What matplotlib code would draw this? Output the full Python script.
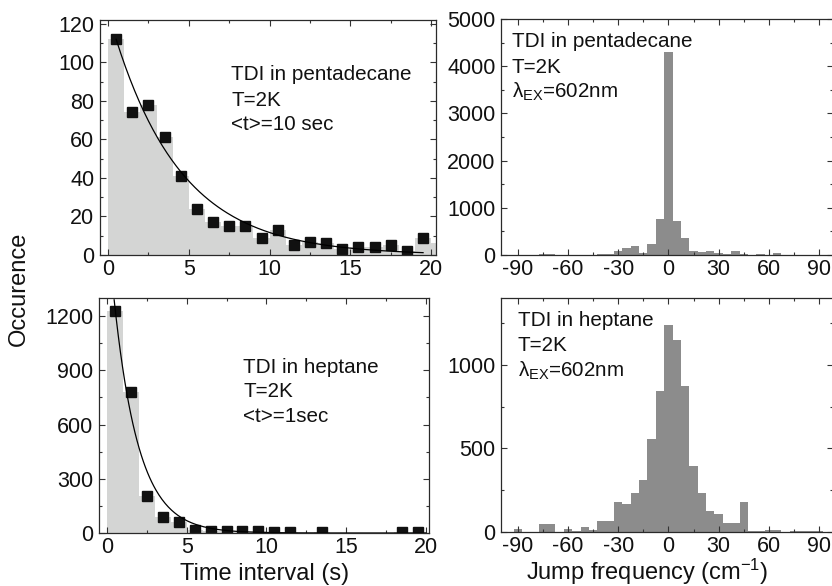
import numpy as np
import matplotlib
matplotlib.use('Agg')
import matplotlib.pyplot as plt
from matplotlib.ticker import MultipleLocator

plt.rcParams['font.family'] = ['Liberation Sans', 'DejaVu Sans']
plt.rcParams['mathtext.fontset'] = 'custom'
plt.rcParams['mathtext.rm'] = 'Liberation Sans'
plt.rcParams['mathtext.it'] = 'Liberation Sans:italic'
plt.rcParams['mathtext.bf'] = 'Liberation Sans:bold'
plt.rcParams['axes.unicode_minus'] = False

# ---------------- data ----------------
# waiting-time histograms (1 s bins starting at 0 s)
pent_time_counts = [112, 74, 78, 61, 41, 24, 17, 15, 15, 9, 13, 5, 7, 6, 3, 4, 4, 5, 2, 9, 6]
hept_time_counts = [1230, 780, 205, 88, 60, 15, 12, 12, 10, 10, 5, 8, 0, 5, 0, 0, 0, 0, 3, 3]

# exponential fit parameters (amplitude at first bin centre, decay constant)
pent_fit_amp, pent_fit_tau = 112.0, 4.2
hept_fit_amp, hept_fit_tau = 1290.0, 1.55

# jump-frequency histograms (5 cm-1 bins centred -95 ... 95)
jump_centers = list(range(-95, 100, 5))
pent_jump_counts = [3, 5, 5, 3, 14, 14, 5, 5, 7, 5, 7, 14, 14, 92, 149, 198, 42, 234, 772,
                    4300, 729, 361, 92, 71, 92, 35, 21, 92, 14, 7, 14, 7, 42, 5, 3, 3, 3, 3, 3]
hept_jump_counts = [0, 20, 0, 0, 50, 50, 0, 20, 8, 30, 14, 67, 63, 180, 169, 232, 311, 556, 841,
                    1238, 1151, 873, 395, 234, 125, 107, 54, 52, 179, 8, 8, 14, 14, 0, 3, 3, 3, 3, 0]

W, H = 832, 586
fig = plt.figure(figsize=(W / 100, H / 100), dpi=100)


def ax_px(l, t, r, b):
    return fig.add_axes([l / W, 1 - b / H, (r - l) / W, (b - t) / H])


def style(ax, xmaj, xmin, ymaj, ymin):
    ax.xaxis.set_major_locator(MultipleLocator(xmaj))
    ax.xaxis.set_minor_locator(MultipleLocator(xmin))
    ax.yaxis.set_major_locator(MultipleLocator(ymaj))
    ax.yaxis.set_minor_locator(MultipleLocator(ymin))
    ax.tick_params(which='both', direction='in', top=True, right=True,
                   colors='#333333', labelcolor='#111111', width=0.8)
    ax.tick_params(which='major', length=4, labelsize=15.5)
    ax.tick_params(axis='y', which='major', pad=4)
    ax.tick_params(axis='x', which='major', pad=3)
    ax.tick_params(which='minor', length=2)
    for s in ax.spines.values():
        s.set_color('#2a2a2a')
        s.set_linewidth(0.9)


light = '#d4d5d4'
dark = '#8c8c8c'

# ---- top left ----
ax1 = ax_px(100, 20, 436, 255)
t_edges = np.arange(len(pent_time_counts))
ax1.bar(t_edges, pent_time_counts, width=1.0, align='edge', color=light, linewidth=0)
ctr = t_edges[:20] + 0.5
ax1.plot(ctr, pent_time_counts[:20], 's', color='#111111', ms=6.5)
xf = np.linspace(0.5, 19.5, 200)
ax1.plot(xf, pent_fit_amp * np.exp(-(xf - 0.5) / pent_fit_tau), color='black', lw=0.9)
ax1.set_xlim(-0.5, 20.3)
ax1.set_ylim(0, 122)
style(ax1, 5, 2.5, 20, 10)

# ---- bottom left ----
ax2 = ax_px(99, 298, 429, 533)
t_edges2 = np.arange(len(hept_time_counts))
ax2.bar(t_edges2, hept_time_counts, width=1.0, align='edge', color=light, linewidth=0)
hc = np.array(hept_time_counts, dtype=float)
mask = hc > 0
ax2.plot((t_edges2 + 0.5)[mask], hc[mask], 's', color='#111111', ms=6.5)
xf2 = np.linspace(0.45, 20, 300)
ax2.plot(xf2, hept_fit_amp * np.exp(-(xf2 - 0.45) / hept_fit_tau), color='black', lw=0.9)
ax2.set_xlim(-0.5, 20.2)
ax2.set_ylim(0, 1300)
style(ax2, 5, 2.5, 300, 150)

# ---- top right ----
ax3 = ax_px(501, 19, 833, 255)
ax3.bar(jump_centers, pent_jump_counts, width=5.0, color=dark, linewidth=0)
ax3.set_xlim(-100, 98.3)
ax3.set_ylim(0, 5000)
style(ax3, 30, 15, 1000, 500)

# ---- bottom right ----
ax4 = ax_px(501, 298, 833, 532)
ax4.bar(jump_centers, hept_jump_counts, width=5.0, color=dark, linewidth=0)
ax4.set_xlim(-100, 98.3)
ax4.set_ylim(0, 1400)
style(ax4, 30, 15, 500, 250)


def ftext(x, y, s, **kw):
    fig.text(x / W, 1 - y / H, s, va='baseline', ha='left', fontsize=14.9, color='#111111', **kw)


# annotations
ftext(231, 80, 'TDI in pentadecane')
ftext(231, 105.5, 'T=2K')
ftext(231, 130, '<t>=10 sec')

ftext(243, 373, 'TDI in heptane')
ftext(243, 397, 'T=2K')
ftext(243, 421.5, '<t>=1sec')

lam = r'$\mathrm{\lambda_{EX}}$=602nm'
ftext(512, 47, 'TDI in pentadecane')
ftext(512, 73, 'T=2K')
ftext(512, 98, lam)

ftext(518, 326, 'TDI in heptane')
ftext(518, 351, 'T=2K')
ftext(518, 377, lam)

# axis labels
fig.text(19 / W, 1 - 289 / H, 'Occurence', rotation=90, ha='center', va='center',
         fontsize=17, color='#111111')
fig.text(265 / W, 1 - 580 / H, 'Time interval (s)', ha='center', va='baseline',
         fontsize=17, color='#111111')
fig.text(647 / W, 1 - 580 / H, r'Jump frequency (cm$^{\mathrm{-1}}$)', ha='center', va='baseline',
         fontsize=17, color='#111111')

fig.savefig('out.png', dpi=100)
